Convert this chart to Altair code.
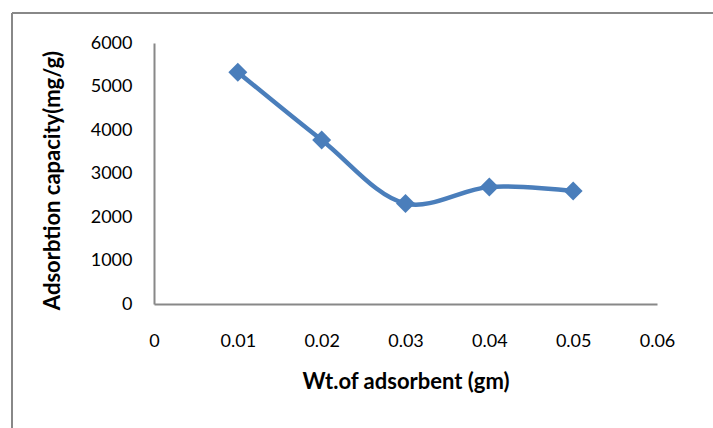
import altair as alt
import pandas as pd

weights = [0.01, 0.02, 0.03, 0.04, 0.05]
capacity = [5330, 3770, 2310, 2690, 2600]

df = pd.DataFrame({"w": weights, "q": capacity})

FONT = "Lato"
BLUE = "#4A7EBB"

x = alt.X("w:Q", title="Wt.of adsorbent (gm)",
          scale=alt.Scale(domain=[0, 0.06], nice=False, zero=True),
          axis=alt.Axis(values=[0, 0.01, 0.02, 0.03, 0.04, 0.05, 0.06], format="~g",
                        labelPadding=28, labelFlush=False, titlePadding=21))
y = alt.Y("q:Q", title="Adsorbtion capacity(mg/g)",
          scale=alt.Scale(domain=[0, 6000], nice=False),
          axis=alt.Axis(values=[0, 1000, 2000, 3000, 4000, 5000, 6000], format="d",
                        labelPadding=22, titlePadding=26, titleY=137))

line = alt.Chart(df).mark_line(color=BLUE, strokeWidth=4.5, interpolate="catmull-rom").encode(x=x, y=y)
pts = alt.Chart(df).mark_point(shape="diamond", filled=True, color=BLUE, size=360, opacity=1).encode(x=x, y=y)

one = pd.DataFrame({"a": [0]})
frame_left = alt.Chart(one).mark_rule(color="#888888", strokeWidth=2).encode(
    x=alt.value(-142), y=alt.value(-30), y2=alt.value(500))
frame_top = alt.Chart(one).mark_rule(color="#888888", strokeWidth=2).encode(
    x=alt.value(-142), x2=alt.value(700), y=alt.value(-30))

chart = alt.layer(frame_left, frame_top, line, pts).properties(
    width=503, height=261,
    padding={"left": 154, "top": 43, "right": 56, "bottom": 124},
    autosize=alt.AutoSizeParams(type="none"),
    background="white",
).configure_view(stroke=None).configure_axis(
    grid=False, ticks=False, domainColor="#888888", domainWidth=2,
    labelFont=FONT, labelFontSize=18, labelColor="#000000",
    titleFont=FONT, titleFontSize=22, titleFontWeight="bold", titleColor="#000000",
)

chart.save("out.html", embed_options={"renderer": "svg", "actions": False})
